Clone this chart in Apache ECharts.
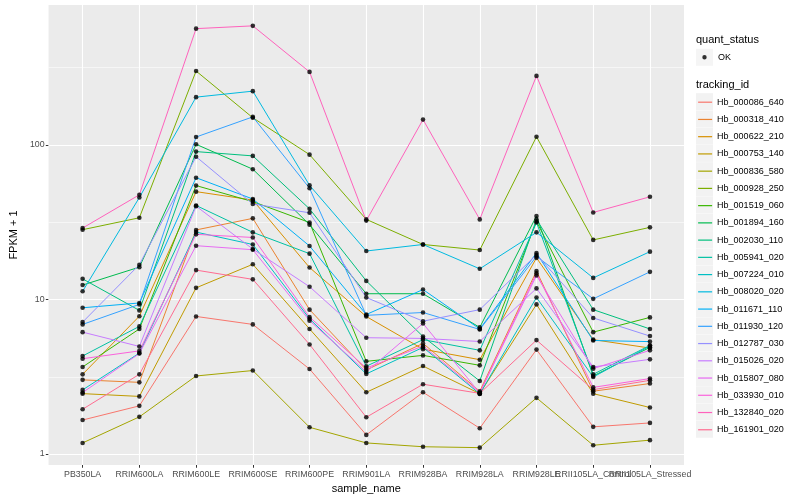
<!DOCTYPE html>
<html><head><meta charset="utf-8">
<script src="https://cdn.jsdelivr.net/npm/echarts@6/dist/echarts.min.js"></script>
<style>html,body{margin:0;padding:0;background:#fff}#c{width:800px;height:500px}</style>
</head><body><div id="c"></div>
<script>
const categories = ['PB350LA','RRIM600LA','RRIM600LE','RRIM600SE','RRIM600PE','RRIM901LA','RRIM928BA','RRIM928LA','RRIM928LE','RRII105LA_Control','RRII105LA_Stressed'];
const trackingIds = ['Hb_000086_640','Hb_000318_410','Hb_000622_210','Hb_000753_140','Hb_000836_580','Hb_000928_250','Hb_001519_060','Hb_001894_160','Hb_002030_110','Hb_005941_020','Hb_007224_010','Hb_008020_020','Hb_011671_110','Hb_011930_120','Hb_012787_030','Hb_015026_020','Hb_015807_080','Hb_033930_010','Hb_132840_020','Hb_161901_020'];

// FPKM + 1 per sample, in category order
const hb_000086_640 = [1.66, 2.05, 7.77, 6.9, 3.55, 1.33, 2.51, 1.47, 4.74, 1.5, 1.59];
const hb_000318_410 = [3.02, 2.91, 28.2, 33.5, 8.6, 3.5, 5.2, 2.55, 15.3, 2.55, 2.86];
const hb_000622_210 = [3.28, 7.8, 49.9, 44, 16.1, 7.76, 4.77, 4.08, 18.6, 5.5, 4.85];
const hb_000753_140 = [2.46, 2.36, 11.9, 16.9, 6.45, 2.51, 3.71, 2.46, 9.3, 2.46, 2.0];
const hb_000836_580 = [1.18, 1.74, 3.2, 3.47, 1.49, 1.18, 1.115, 1.10, 2.31, 1.14, 1.23];
const hb_000928_250 = [28.3, 33.8, 301, 150, 86.6, 33, 22.7, 20.9, 113, 24.3, 29.3];
const hb_001519_060 = [3.66, 6.45, 54.6, 43, 31.5, 3.98, 4.35, 3.75, 32, 6.15, 7.66];
const hb_001894_160 = [12.4, 16.2, 101, 69.7, 30.5, 10.9, 10.9, 6.6, 34.7, 3.2, 4.9];
const hb_002030_110 = [13.6, 8.5, 90.6, 85, 38.6, 13.2, 5.76, 2.97, 33, 8.6, 6.45];
const hb_005941_020 = [4.31, 6.7, 40.6, 27.2, 19.8, 3.7, 5.5, 4.69, 31.5, 3.28, 5.05];
const hb_007224_010 = [2.6, 4.5, 27.3, 22.7, 7.5, 3.3, 4.9, 2.45, 10.3, 3.15, 5.0];
const hb_008020_020 = [11.3, 45.7, 204, 223, 54.8, 20.6, 22.7, 15.8, 27.2, 13.8, 20.4];
const hb_011671_110 = [8.84, 9.5, 61.4, 44.7, 22.2, 8.0, 11.6, 6.45, 20, 5.43, 5.34];
const hb_011930_120 = [6.9, 9.3, 112.6, 152, 52.5, 7.9, 8.24, 6.4, 19, 10.1, 15.1];
const hb_012787_030 = [7.14, 16.8, 84, 41.5, 36.4, 10.3, 7.24, 8.6, 19.5, 7.6, 5.8];
const hb_015026_020 = [6.15, 4.97, 40.2, 21.2, 12.1, 5.66, 5.6, 5.35, 11.8, 3.66, 4.1];
const hb_015807_080 = [2.5, 4.47, 22.3, 21, 7.3, 3.4, 7.0, 2.48, 14.3, 3.57, 4.69];
const hb_033930_010 = [4.14, 4.65, 26.4, 25.2, 7.7, 3.6, 5.0, 2.5, 14.8, 2.7, 3.08];
const hb_132840_020 = [29, 47.6, 566, 590, 297, 32.4, 146, 33, 280, 36.6, 46.2];
const hb_161901_020 = [1.95, 3.28, 15.5, 13.5, 5.12, 1.73, 2.83, 2.47, 5.46, 2.61, 3.0];

const yTickLabels = [1, 10, 100];
const yMinorBreaks = [3.1623, 31.623, 316.23];
const yRange = [0.8494, 805];

const seriesValues = [hb_000086_640, hb_000318_410, hb_000622_210, hb_000753_140, hb_000836_580, hb_000928_250, hb_001519_060, hb_001894_160, hb_002030_110, hb_005941_020, hb_007224_010, hb_008020_020, hb_011671_110, hb_011930_120, hb_012787_030, hb_015026_020, hb_015807_080, hb_033930_010, hb_132840_020, hb_161901_020];
const palette = ['#F8766D','#EA8331','#D89000','#C09B00','#A3A500','#7CAE00','#39B600','#00BB4E','#00BF7D','#00C1A3','#00BFC4','#00BAE0','#00B0F6','#35A2FF','#9590FF','#C77CFF','#E76BF3','#FA62DB','#FF62BC','#FF6C91'];

const FONT = 'Liberation Sans';
const lg = Math.log10;
const catIdx = categories.map((c, i) => i);
const evenIdx = catIdx.filter(i => i % 2 === 0);
const oddIdx = catIdx.filter(i => i % 2 === 1);

const major = {color: '#fff', width: 1.1, type: 'solid'};
const minor = {color: '#fff', width: 0.55, type: 'solid'};
const gridLines = [];
catIdx.forEach(i => gridLines.push({xAxis: i, lineStyle: major}));
yTickLabels.forEach(v => gridLines.push({yAxis: lg(v), lineStyle: major}));
yMinorBreaks.forEach(v => gridLines.push({yAxis: lg(v), lineStyle: minor}));

const series = seriesValues.map((vals, k) => ({
  name: trackingIds[k],
  type: 'line',
  data: vals.map((v, i) => [i, lg(v)]),
  showSymbol: false,
  symbol: 'circle',
  lineStyle: {width: 1, color: palette[k]},
  itemStyle: {color: palette[k]},
  z: 2,
  silent: true,
  emphasis: {disabled: true},
  markLine: k === 0 ? {silent: true, z: 1, symbol: ['none', 'none'], label: {show: false}, lineStyle: {type: 'solid'}, emphasis: {disabled: true}, data: gridLines, animation: false} : undefined
}));
const allPts = [];
seriesValues.forEach(vals => vals.forEach((v, i) => allPts.push([i, lg(v)])));
series.push({
  name: 'OK', type: 'scatter', data: allPts, symbol: 'circle', symbolSize: 4.6,
  itemStyle: {color: '#000'}, z: 3, silent: true
});

function xAxisDef(idx, withName) {
  return {
    type: 'value', min: -0.6, max: 10.6, position: 'bottom', offset: 0,
    name: withName ? 'sample_name' : '', nameLocation: 'middle', nameGap: 16,
    nameTextStyle: {fontFamily: FONT, fontSize: 11, color: '#000'},
    axisLine: {show: false, onZero: false},
    axisTick: {show: true, length: 2.75, customValues: idx, lineStyle: {color: '#333', width: 1}},
    axisLabel: {customValues: idx, formatter: v => categories[v], fontFamily: FONT, fontSize: 8.8, color: '#4D4D4D', margin: 5, hideOverlap: false, showMinLabel: true, showMaxLabel: true},
    splitLine: {show: false}
  };
}

const chart = echarts.init(document.getElementById('c'), null, {renderer: 'canvas'});
chart.setOption({
  animation: false,
  textStyle: {fontFamily: FONT},
  grid: {left: 39.5, right: 116, top: 5, bottom: 35, show: true, backgroundColor: '#EBEBEB', borderWidth: 0, containLabel: false},
  title: [
    {text: 'quant_status', left: 696, top: 34.5, padding: 0, textStyle: {fontFamily: FONT, fontSize: 11, fontWeight: 'normal', color: '#000'}},
    {text: 'tracking_id', left: 696, top: 79, padding: 0, textStyle: {fontFamily: FONT, fontSize: 11, fontWeight: 'normal', color: '#000'}}
  ],
  xAxis: [xAxisDef(evenIdx, true), xAxisDef(oddIdx, false)],
  yAxis: {
    type: 'value', min: lg(yRange[0]), max: lg(yRange[1]),
    name: 'FPKM + 1', nameLocation: 'middle', nameGap: 21,
    nameTextStyle: {fontFamily: FONT, fontSize: 11, color: '#000'},
    axisLine: {show: false, onZero: false},
    axisTick: {show: true, length: 2.75, customValues: yTickLabels.map(lg), lineStyle: {color: '#333', width: 1}},
    axisLabel: {customValues: yTickLabels.map(lg), formatter: v => String(Math.round(Math.pow(10, v))), fontFamily: FONT, fontSize: 8.8, color: '#4D4D4D', margin: 4},
    splitLine: {show: false}
  },
  legend: [
    {data: ['OK'], left: 696, top: 48.8, padding: 0, itemWidth: 17, itemHeight: 17, icon: 'rect', selectedMode: false,
     itemStyle: {color: '#F2F2F2', borderWidth: 0}, textStyle: {color: 'rgba(0,0,0,0)', fontSize: 9}},
    {data: ['OK'], left: 696, top: 48.8, padding: 0, itemWidth: 17, itemHeight: 17, selectedMode: false,
     icon: 'path://M0,0L0.05,0L0.05,0.05ZM17,17L16.95,17L16.95,16.95ZM8.5,6.3A2.2,2.2,0,1,1,8.49,6.3Z',
     itemStyle: {color: '#000', borderWidth: 0}, textStyle: {color: '#000', fontSize: 9, fontFamily: FONT}},
    {data: trackingIds, orient: 'vertical', left: 696, top: 93.2, padding: 0, itemWidth: 17, itemHeight: 17, itemGap: 0.24, icon: 'rect', selectedMode: false,
     itemStyle: {color: '#F2F2F2', borderWidth: 0}, textStyle: {color: 'rgba(0,0,0,0)', fontSize: 9}},
    {data: trackingIds, orient: 'vertical', left: 697.5, top: 95.4, padding: 0, itemWidth: 14, itemHeight: 17, itemGap: 3.64, selectedMode: false,
     itemStyle: {opacity: 0}, lineStyle: {width: 1.2},
     textStyle: {color: '#000', fontSize: 9, fontFamily: FONT}}
  ],
  series: series
});
</script></body></html>
